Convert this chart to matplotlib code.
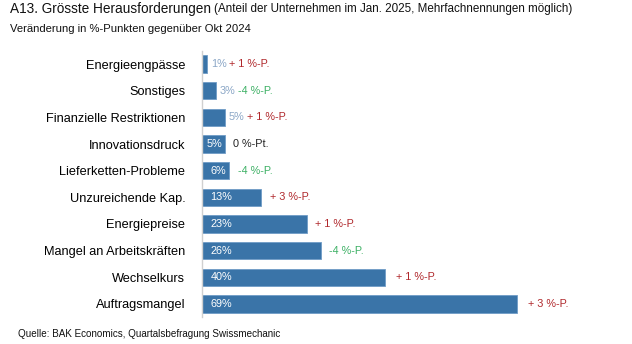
import matplotlib
matplotlib.use("Agg")
import matplotlib.pyplot as plt

categories = ["Energieengpässe", "Sonstiges", "Finanzielle Restriktionen", "Innovationsdruck",
              "Lieferketten-Probleme", "Unzureichende Kap.", "Energiepreise",
              "Mangel an Arbeitskräften", "Wechselkurs", "Auftragsmangel"]
shares = [1, 3, 5, 5, 6, 13, 23, 26, 40, 69]
changes = ["+ 1 %-P.", "-4 %-P.", "+ 1 %-P.", "0 %-Pt.", "-4 %-P.", "+ 3 %-P.",
           "+ 1 %-P.", "-4 %-P.", "+ 1 %-P.", "+ 3 %-P."]

plt.rcParams["font.family"] = ["Liberation Sans", "DejaVu Sans"]

BAR = "#3a74a8"
RED = "#b0282c"
GREEN = "#3cb064"
LIGHT = "#8aa6c6"

W, H = 632, 344
fig = plt.figure(figsize=(W / 100, H / 100), dpi=100)
xmax = 90
left_px, zero_to_69 = 202, 315
ax = fig.add_axes([left_px / W, 1 - 317.3 / H, zero_to_69 * xmax / 69 / W, (317.3 - 50.7) / H])

y = list(range(len(categories)))
ax.barh(y, shares, height=0.64, color=BAR, edgecolor="#6f9cc6", linewidth=0.6)
ax.set_xlim(0, xmax)
ax.set_ylim(len(categories) - 0.5, -0.5)
ax.set_yticks(y)
ax.set_yticklabels(categories, fontsize=9.2)
ax.tick_params(axis="y", length=0, pad=12)
ax.set_xticks([])
for s in ["top", "right", "bottom"]:
    ax.spines[s].set_visible(False)
ax.spines["left"].set_color("#d0d0d0")
ax.spines["left"].set_linewidth(1.0)

for i, (v, c) in enumerate(zip(shares, changes)):
    inside = v >= 5 and categories[i] != "Finanzielle Restriktionen"
    if inside:
        if v <= 6:
            ax.annotate(f"{v}%", (v, i), xytext=(-2, 0), textcoords="offset points",
                        ha="right", va="center", color="white", fontsize=7.8)
        else:
            ax.annotate(f"{v}%", (0, i), xytext=(6, 0), textcoords="offset points",
                        ha="left", va="center", color="white", fontsize=7.8)
        off = 6
    else:
        ax.annotate(f"{v}%", (v, i), xytext=(3, 0), textcoords="offset points",
                    ha="left", va="center", color=LIGHT, fontsize=7.8)
        off = 16
    col = RED if c.startswith("+") else (GREEN if c.startswith("-") else "#222222")
    if v >= 40:
        off = 8
    ax.annotate(c, (v, i), xytext=(off, 0), textcoords="offset points",
                ha="left", va="center", color=col, fontsize=7.8)

title = fig.text(10 / W, 1 - 9 / H, "A13. Grösste Herausforderungen", fontsize=9.8,
                 va="center", ha="left", color="#111111")
fig.canvas.draw()
bb = title.get_window_extent(fig.canvas.get_renderer())
fig.text(bb.x1 / W + 3 / W, 1 - 9 / H,
         "(Anteil der Unternehmen im Jan. 2025, Mehrfachnennungen möglich)",
         fontsize=8.4, va="center", ha="left", color="#111111")
fig.text(10 / W, 1 - 29 / H, "Veränderung in %-Punkten gegenüber Okt 2024", fontsize=8.1,
         va="center", ha="left", color="#111111")
fig.text(18 / W, 1 - 334 / H, "Quelle: BAK Economics, Quartalsbefragung Swissmechanic",
         fontsize=7.1, va="center", ha="left", color="#111111")

fig.savefig("out.png", dpi=100)
